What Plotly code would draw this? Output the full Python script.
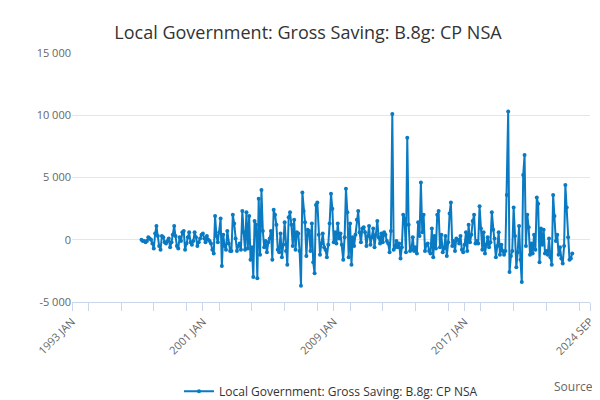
import plotly.graph_objects as go
import pandas as pd

# monthly values, thousands, from 1997 APR to 2024 SEP
vals_k = [
    0, -0.1, -0.1, -0.2, -0.1, 0.2, 0.1, 0, -0.3,
    -0.7, 0.5, 1.1, 0.3, -0.5, -0.8, 0.3, 0.2, -0.2, -0.3, -0.1, 0.1,
    -0.6, -0.2, 0.4, 1.1, 0.3, -0.5, -0.7, 0.2, -0.1, 0.6, 0.7, -0.8,
    -0.3, 0.2, 0.6, -0.2, -0.4, -0.1, 0.6, 0.2, -0.5, -0.2, 0.1, 0.4,
    0.5, 0.1, -0.2, 0.3, 0, -0.1, -0.3, -0.8, -1.1, 1.9, 0.3, -0.2,
    0.6, 1.7, -2.1, 0.4, -0.5, -0.8, 0.7, -0.3, -0.9, -0.9, 2.0, 1.3,
    0.1, -0.9, -0.5, -0.3, -0.8, 2.3, 0.6, -0.8, 2.2, -0.7, 1.9, -1.6,
    -0.6, -3.0, 1.5, 1.2, -3.1, 3.3, -1.2, 4.0, 0.7, -0.6, -0.1, -1.0,
    -0.2, 0.1, 0.7, -1.6, 2.4, 2.0, 1.2, -0.8, -1.0, 0.5, -1.4, -0.4,
    1.4, -0.9, -2.0, 1.8, 2.2, 1.2, -0.5, 1.6, -0.8, 0.6, 0.5, -0.9,
    -3.7, 3.8, 2.3, 1.4, -1.3, 0.8, 0.7, -0.9, 1.3, -1.8, -2.7, 2.8,
    3.0, 0.4, -1.2, -0.3, 0.5, -0.6, -0.8, -1.4, -0.4, 1.3, 3.7, 2.5,
    -0.2, 0.6, -0.3, 1.3, 0.1, 0.5, -0.4, -1.6, 0.2, 4.1, 2.2, -1.4,
    1.3, -2.0, 0.2, -0.5, 0.4, 1.6, 2.3, 0.6, -0.2, 0.9, 1.0, 0.6,
    -0.5, 0.3, 1.1, -0.4, 0.2, 0.9, -0.6, 0.4, 1.5, 0.2, -0.3, 0.5,
    -0.2, 0.6, 0.4, -0.1, -0.3, -1.0, 0.7, 10.1, -0.8, -0.6, -0.1, -0.6,
    -0.3, -1.5, -0.6, 2.0, 1.7, -1.0, 8.2, 1.2, -0.9, -0.8, 0.2, -0.9,
    -0.6, -1.1, 1.4, 0.3, 4.6, 0.6, 2.0, -0.9, -0.4, -0.3, -0.9, -1.1,
    0.9, -1.4, 0.3, -0.7, 2.0, 2.3, -0.6, 0.4, -1.0, -0.7, 0.3, -1.3,
    -0.2, 2.1, 3.0, -0.5, -0.1, -0.9, 0.1, 0, -0.3, 0.3, -0.8, -1.0,
    -0.4, 0.6, -0.9, 1.2, -0.2, 0.4,
    1.5, 2.0, -0.3, -0.1, -0.3, 2.7, 0.9, -0.8, 0.6, -1.1, -0.4, 0.2,
    -0.6, -0.2, 2.2, 0.8, 0.1, -1.4, -0.5, 0.6, -1.2, -0.4, -0.9, -1.2,
    -0.9, 3.6, 10.3, -2.6, -1.3, -0.9, 2.6, 0.3, -2.2, -1.0, 1.1, -1.6,
    -3.4, 5.2, 6.8,
    -0.5, 2.0, 1.0, -1.2, -0.3, -1.1, 0.4, -0.8, 3.4, 2.9, -1.8, 0.9,
    -0.4, 0.8, -1.1, -0.9, -1.2, 0.1, -1.4, -2.0, 3.6, 1.9, -0.1, 0.4,
    -1.2, -0.6, -1.5, -1.9, -0.5, 4.4, 2.6, 0.2, -1.6, -1.5, -1.1,
]
dates = pd.date_range("1997-04-01", periods=len(vals_k), freq="MS")
values = [v * 1000 for v in vals_k]

tick_vals = ["1993-01-01", "2001-01-01", "2009-01-01", "2017-01-01", "2024-09-01"]
tick_text = ["1993 JAN", "2001 JAN", "2009 JAN", "2017 JAN", "2024 SEP"]

name = "Local Government: Gross Saving: B.8g: CP NSA"

fig = go.Figure()
fig.add_trace(go.Scatter(
    x=dates, y=values, mode="lines+markers", name=name,
    line=dict(color="#0a7ac2", width=2), marker=dict(size=4, color="#0a7ac2"),
))

fig.update_layout(
    width=600, height=400,
    title=dict(text=name, x=0.5, y=0.955, font=dict(size=18, color="#333", family="Open Sans")),
    plot_bgcolor="white", paper_bgcolor="white",
    margin=dict(l=64, r=18, t=45, b=106, autoexpand=False),
    font=dict(family="Open Sans", color="#666", size=11),
    showlegend=True,
    legend=dict(orientation="h", x=0.5, xanchor="center", y=-0.3,
                font=dict(size=12, color="#333")),
    separators=". ",
)
fig.update_xaxes(
    range=["1993-01-01", "2024-09-01"], tickvals=tick_vals, ticktext=tick_text,
    tickangle=-45, showgrid=False, showline=True, linecolor="#ccd6eb",
    ticks="outside", tickcolor="#ccd6eb", ticklen=8,
    minor=dict(dtick="M24", ticks="outside", ticklen=8, tickcolor="#ccd6eb"),
)
fig.update_yaxes(
    range=[-5000, 15000], tickvals=[-5000, 0, 5000, 10000, 15000],
    ticktext=["-5 000", "0", "5 000", "10 000", "15 000"],
    showgrid=True, gridcolor="#e6e6e6", zeroline=False,
)
fig.add_annotation(text="Source:", xref="paper", yref="paper", x=1.015, y=-0.38,
                   xanchor="right", showarrow=False, font=dict(size=12, color="#666"))

fig.write_html("out.html")
